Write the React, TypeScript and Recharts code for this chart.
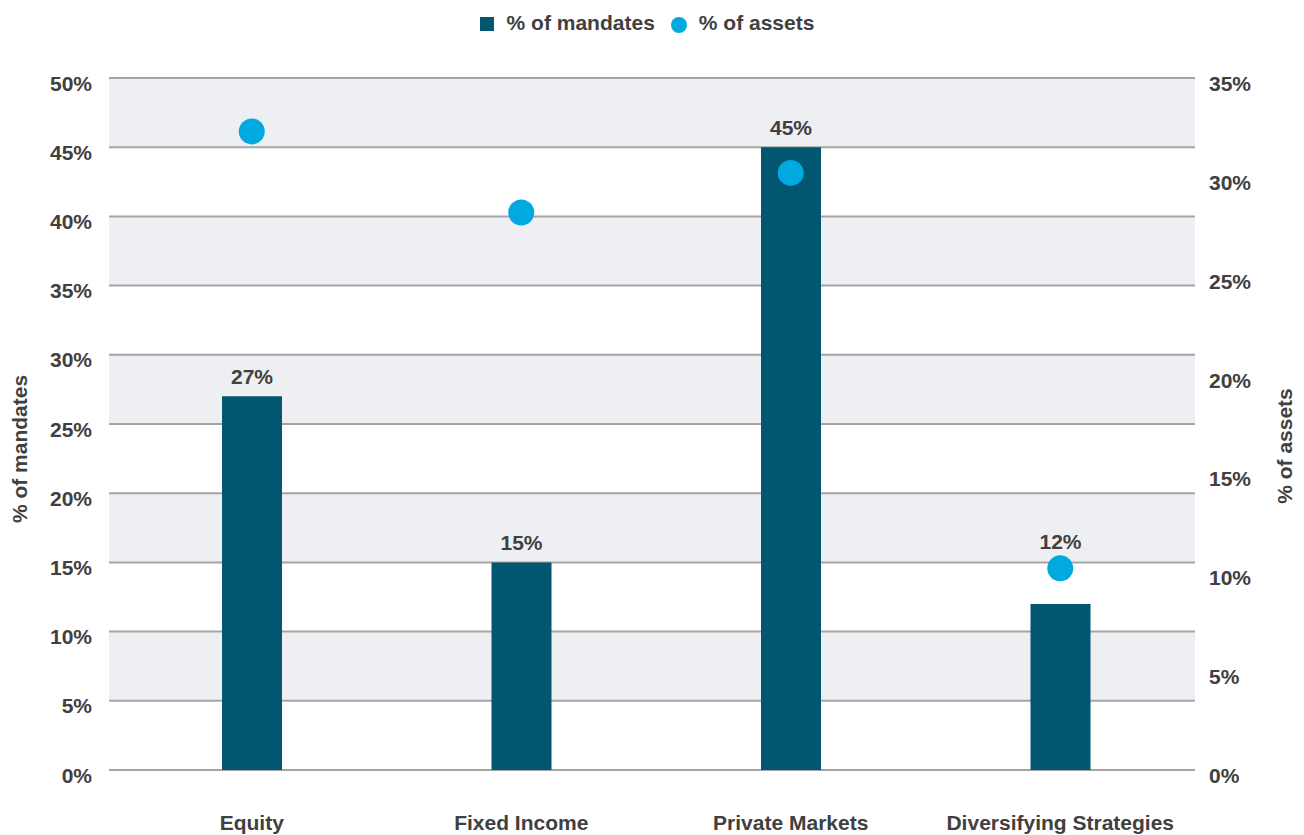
import React from 'react';
import {
  ComposedChart,
  Bar,
  Line,
  XAxis,
  YAxis,
  CartesianGrid,
  Legend,
  LabelList,
  Label,
} from 'recharts';

const categories = ['Equity', 'Fixed Income', 'Private Markets', 'Diversifying Strategies'];
const mandates = [27, 15, 45, 12];
const assets = [32.3, 28.2, 30.2, 10.2];
const leftTicks = [0, 5, 10, 15, 20, 25, 30, 35, 40, 45, 50];
const rightTicks = [0, 5, 10, 15, 20, 25, 30, 35];

const LEFT_MAX = 50;
const RIGHT_MAX = 35;
const BAR_COLOR = '#03566F';
const DOT_COLOR = '#00A9E0';
const TEXT_COLOR = '#404040';
const BAND_COLOR = '#EEEFF3';
const FONT = '"Liberation Sans", Arial, Helvetica, sans-serif';
const FS = 21;
const DOT_R = 13;

const data = categories.map((c, i) => ({ category: c, mandates: mandates[i], assets: assets[i] }));

const textStyle = { fill: TEXT_COLOR, fontFamily: FONT, fontSize: FS, fontWeight: 700 } as const;

const LeftTick = (props: any) => {
  const { x, y, payload } = props;
  return (
    <text x={x} y={y + 12.5} textAnchor="end" {...textStyle}>
      {payload.value}%
    </text>
  );
};

const RightTick = (props: any) => {
  const { x, y, payload } = props;
  return (
    <text x={x} y={y + 13} textAnchor="start" {...textStyle}>
      {payload.value}%
    </text>
  );
};

const BottomTick = (props: any) => {
  const { x, y, payload } = props;
  return (
    <text x={x} y={y + 60} textAnchor="middle" {...textStyle}>
      {payload.value}
    </text>
  );
};

const renderBarLabel = (props: any) => {
  const { x, y, width, height, value, index } = props;
  const bx = Number(x);
  const by = Number(y);
  const bw = Number(width);
  const bh = Number(height);
  const bottom = by + bh;
  const plotH = (bh * LEFT_MAX) / Number(value);
  const dotY = bottom - (assets[index] / RIGHT_MAX) * plotH;
  let baseY = by - 12;
  if (dotY < by && by - dotY < 60) baseY = dotY - DOT_R - 6.5;
  return (
    <text key={`lbl-${index}`} x={bx + bw / 2} y={baseY} textAnchor="middle" {...textStyle}>
      {value}%
    </text>
  );
};

const renderDot = (props: any) => {
  const { cx, cy, index } = props;
  return <circle key={`dot-${index}`} cx={cx} cy={cy} r={DOT_R} fill={DOT_COLOR} stroke="none" />;
};

const LegendContent = () => (
  <div style={{ height: 78, width: '100%' }}>
    <div
      style={{
        height: 46,
        display: 'flex',
        alignItems: 'center',
        justifyContent: 'center',
        paddingRight: 10,
        fontFamily: FONT,
        fontSize: FS,
        fontWeight: 700,
        color: TEXT_COLOR,
      }}
    >
      <span style={{ display: 'inline-block', width: 14, height: 14, background: BAR_COLOR, marginRight: 13, marginTop: 2 }} />
      <span style={{ marginRight: 16 }}>% of mandates</span>
      <span
        style={{ display: 'inline-block', width: 16, height: 16, borderRadius: '50%', background: DOT_COLOR, marginRight: 12, marginTop: 4 }}
      />
      <span>% of assets</span>
    </div>
  </div>
);

const LeftAxisLabel = (props: any) => {
  const vb = props.viewBox || { x: 0, y: 78, width: 109, height: 692 };
  const cx = vb.x + 19;
  const cy = vb.y + vb.height / 2 + 25;
  return (
    <text x={cx} y={cy} textAnchor="middle" dominantBaseline="central" transform={`rotate(-90 ${cx} ${cy})`} {...textStyle}>
      % of mandates
    </text>
  );
};

const RightAxisLabel = (props: any) => {
  const vb = props.viewBox || { x: 1195, y: 78, width: 109, height: 692 };
  const cx = vb.x + 89;
  const cy = vb.y + vb.height / 2 + 22;
  return (
    <text x={cx} y={cy} textAnchor="middle" dominantBaseline="central" transform={`rotate(-90 ${cx} ${cy})`} {...textStyle}>
      % of assets
    </text>
  );
};

export default function App() {
  return (
    <div style={{ position: 'absolute', left: 0, top: 0, width: 1304, height: 835, background: '#ffffff' }}>
      <ComposedChart width={1304} height={835} data={data} margin={{ top: 0, right: 0, bottom: 0, left: 0 }}>
        <CartesianGrid
          yAxisId="left"
          vertical={false}
          stroke="#A5A5A5"
          strokeWidth={2}
          horizontalFill={[BAND_COLOR, '#FFFFFF']}
          fillOpacity={1}
        />
        <Legend verticalAlign="top" align="center" content={<LegendContent />} />
        <XAxis
          dataKey="category"
          interval={0}
          axisLine={false}
          tickLine={false}
          tickSize={0}
          tickMargin={0}
          height={65}
          padding={{ left: 8, right: 0 }}
          tick={<BottomTick />}
        />
        <YAxis
          yAxisId="left"
          orientation="left"
          width={109}
          domain={[0, LEFT_MAX]}
          ticks={leftTicks}
          axisLine={false}
          tickLine={false}
          tickSize={0}
          tickMargin={17}
          tick={<LeftTick />}
        >
          <Label content={<LeftAxisLabel />} />
        </YAxis>
        <YAxis
          yAxisId="right"
          orientation="right"
          width={109}
          domain={[0, RIGHT_MAX]}
          ticks={rightTicks}
          axisLine={false}
          tickLine={false}
          tickSize={0}
          tickMargin={14}
          tick={<RightTick />}
        >
          <Label content={<RightAxisLabel />} />
        </YAxis>
        <Bar yAxisId="left" dataKey="mandates" fill={BAR_COLOR} barSize={60} isAnimationActive={false}>
          <LabelList dataKey="mandates" content={renderBarLabel} />
        </Bar>
        <Line
          yAxisId="right"
          dataKey="assets"
          stroke="none"
          strokeWidth={0}
          dot={renderDot}
          activeDot={false}
          legendType="circle"
          isAnimationActive={false}
        />
      </ComposedChart>
    </div>
  );
}
